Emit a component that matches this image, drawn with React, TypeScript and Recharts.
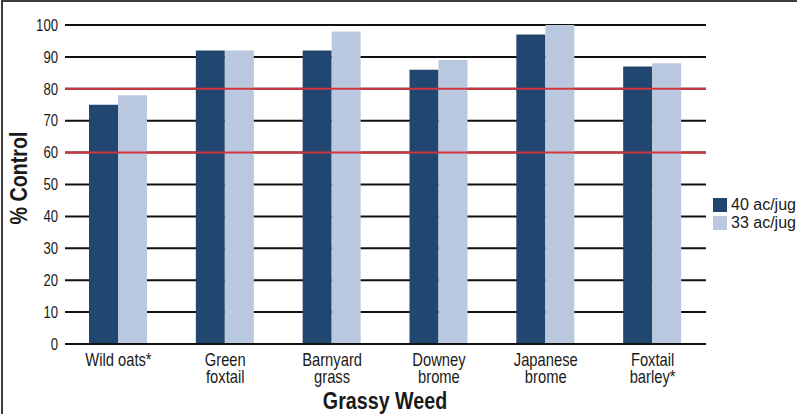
import React from 'react';
import { BarChart, Bar, XAxis, YAxis, CartesianGrid, ReferenceLine } from 'recharts';

const categories = ['Wild oats*', 'Green\nfoxtail', 'Barnyard\ngrass', 'Downey\nbrome', 'Japanese\nbrome', 'Foxtail\nbarley*'];
const rate40 = [75, 92, 92, 86, 97, 87];
const rate33 = [78, 92, 98, 89, 100, 88];
const seriesNames = ['40 ac/jug', '33 ac/jug'];
const yTicks = [0, 10, 20, 30, 40, 50, 60, 70, 80, 90, 100];
const thresholds = [60, 80];

const data = categories.map((name, i) => ({ name, r40: rate40[i], r33: rate33[i] }));

const FONT = '"Liberation Sans", Arial, sans-serif';
const INK = '#1a1a1a';
const COLORS = ['#21466f', '#b9c8df'];
// no condensed face installed, so squeeze Liberation Sans horizontally
const SQUEEZE = 0.82;

function WeedTick({ x, y, payload }: any) {
  const lines = String(payload.value).split('\n');
  return (
    <g transform={`translate(${x},${y + 14}) scale(${SQUEEZE},1)`}>
      <text x={0} y={0} textAnchor="middle" fontFamily={FONT} fontSize={18} fill={INK}>
        {lines.map((l, i) => (
          <tspan key={i} x={0} dy={i === 0 ? 0 : 17}>
            {l}
          </tspan>
        ))}
      </text>
    </g>
  );
}

function PctTick({ x, y, payload }: any) {
  return (
    <g transform={`translate(${x},${y}) scale(${SQUEEZE},1)`}>
      <text x={0} y={0} dy="0.36em" textAnchor="end" fontFamily={FONT} fontSize={16} fill={INK}>
        {payload.value}
      </text>
    </g>
  );
}

export default function App() {
  return (
    <div style={{ position: 'absolute', left: 0, top: 0, width: 797, height: 414, background: '#fff' }}>
      <BarChart
        width={797}
        height={414}
        data={data}
        margin={{ top: 25, right: 91, left: 0, bottom: 0 }}
        barGap={0}
        barSize={29}
      >
        <CartesianGrid horizontal vertical={false} stroke="#111" strokeWidth={2} />
        <XAxis
          dataKey="name"
          height={70}
          tick={<WeedTick />}
          tickLine={false}
          axisLine={{ stroke: '#111', strokeWidth: 2 }}
          interval={0}
          label={{
            content: () => (
              <g transform={`translate(385,409) scale(${SQUEEZE},1)`}>
                <text x={0} y={0} textAnchor="middle" fontFamily={FONT} fontSize={24} fontWeight="bold" fill={INK}>
                  Grassy Weed
                </text>
              </g>
            ),
          }}
        />
        <YAxis
          width={65}
          domain={[0, 100]}
          ticks={yTicks}
          interval={0}
          tickLine={false}
          axisLine={false}
          tickSize={5}
          tickMargin={2}
          tick={<PctTick />}
          label={{
            content: () => (
              <g transform={`translate(19,178) rotate(-90) scale(${SQUEEZE},1)`}>
                <text
                  x={0}
                  y={0}
                  textAnchor="middle"
                  dominantBaseline="central"
                  fontFamily={FONT}
                  fontSize={24}
                  fontWeight="bold"
                  fill={INK}
                >
                  % Control
                </text>
              </g>
            ),
          }}
        />
        <Bar dataKey="r40" name={seriesNames[0]} fill={COLORS[0]} isAnimationActive={false} />
        <Bar dataKey="r33" name={seriesNames[1]} fill={COLORS[1]} isAnimationActive={false} />
        {thresholds.map((t) => (
          <ReferenceLine key={t} y={t} stroke="#d3353f" strokeWidth={2} />
        ))}
      </BarChart>
      <div
        style={{
          position: 'absolute',
          left: 713,
          top: 196,
          fontFamily: FONT,
          fontSize: 16,
          color: INK,
          whiteSpace: 'nowrap',
        }}
      >
        {seriesNames.map((n, i) => (
          <div key={n} style={{ display: 'flex', alignItems: 'center', height: 18 }}>
            <span style={{ width: 14, height: 14, background: COLORS[i], marginRight: 4, display: 'inline-block' }} />
            {n}
          </div>
        ))}
      </div>
      <div
        style={{
          position: 'absolute',
          left: 1,
          top: 0,
          width: 796,
          height: 414,
          boxSizing: 'border-box',
          borderTop: '2px solid #3c3c3c',
          borderLeft: '2px solid #3c3c3c',
          pointerEvents: 'none',
        }}
      />
    </div>
  );
}
